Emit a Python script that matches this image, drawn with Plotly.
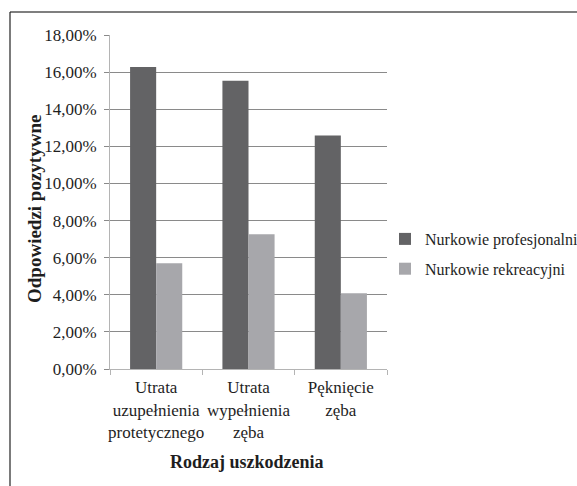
import plotly.graph_objects as go

# Survey data: share of positive answers per damage type
categories = ["Utrata<br>uzupełnienia<br>protetycznego", "Utrata<br>wypełnienia<br>zęba", "Pęknięcie<br>zęba"]
series_names = ["Nurkowie profesjonalni", "Nurkowie rekreacyjni"]
professional = [16.28, 15.54, 12.59]
recreational = [5.70, 7.26, 4.08]
tick_values = [0, 2, 4, 6, 8, 10, 12, 14, 16, 18]
tick_labels = ["0,00%", "2,00%", "4,00%", "6,00%", "8,00%", "10,00%", "12,00%", "14,00%", "16,00%", "18,00%"]
x_title = "Rodzaj uszkodzenia"
y_title = "Odpowiedzi pozytywne"

FONT = "Liberation Serif"
TXT = "#1e1e1e"

fig = go.Figure()
fig.add_trace(go.Bar(x=categories, y=professional, name=series_names[0],
                     legendgroup="prof",
                     marker=dict(color="#636365", line=dict(width=0))))
fig.add_trace(go.Bar(x=categories, y=recreational, name=series_names[1],
                     legendgroup="rec",
                     marker=dict(color="#a7a7ab", line=dict(width=0))))

# plot area: x 110..387 px, y 35..369 px
W, H = 577, 486
L, R, T, B = 110, 190, 35, 117
pw, ph = W - L - R, H - T - B

def px_x(x):
    return (x - L) / pw

def px_y(y):
    return (H - B - y) / ph

fig.update_layout(
    width=W, height=H,
    margin=dict(l=L, r=R, t=T, b=B, autoexpand=False),
    paper_bgcolor="white", plot_bgcolor="white",
    barmode="group", bargap=0.435, bargroupgap=0,
    font=dict(family=FONT, size=17, color=TXT),
    showlegend=True,
    legend=dict(x=px_x(385), xanchor="left", y=px_y(254), yanchor="middle",
                font=dict(family=FONT, size=16, color=TXT),
                itemwidth=30, tracegroupgap=6, bgcolor="rgba(0,0,0,0)"),
    xaxis=dict(showline=True, linecolor="#b4b4b4", linewidth=1,
               ticks="outside", ticklen=5, tickcolor="#b4b4b4",
               tickson="boundaries", tickangle=0, automargin=False,
               ticklabelstandoff=3,
               tickfont=dict(family=FONT, size=17, color=TXT)),
    yaxis=dict(range=[0, 18], tickvals=tick_values, ticktext=tick_labels,
               showline=True, linecolor="#b4b4b4", linewidth=1,
               ticks="outside", ticklen=5, tickcolor="#8a8a8a",
               ticklabelstandoff=4,
               showgrid=True, gridcolor="#8a8a8a", gridwidth=1,
               zeroline=False, automargin=False,
               tickfont=dict(family=FONT, size=17, color=TXT)),
)

# axis titles
fig.add_annotation(text=f"<b>{x_title}</b>", xref="paper", yref="paper",
                   x=px_x(247), y=px_y(462), xanchor="center", yanchor="middle",
                   showarrow=False, font=dict(family=FONT, size=18, color=TXT))
fig.add_annotation(text=f"<b>{y_title}</b>", xref="paper", yref="paper",
                   x=px_x(34), y=px_y(209), xanchor="center", yanchor="middle",
                   textangle=-90, showarrow=False,
                   font=dict(family=FONT, size=19, color=TXT))

# outer frame (top and left edges)
fig.add_shape(type="line", xref="paper", yref="paper",
              x0=px_x(10), x1=px_x(577), y0=px_y(12), y1=px_y(12),
              line=dict(color="#555555", width=1.5))
fig.add_shape(type="line", xref="paper", yref="paper",
              x0=px_x(10), x1=px_x(10), y0=px_y(12), y1=px_y(486),
              line=dict(color="#222222", width=1.2))

fig.write_html("out.html")
